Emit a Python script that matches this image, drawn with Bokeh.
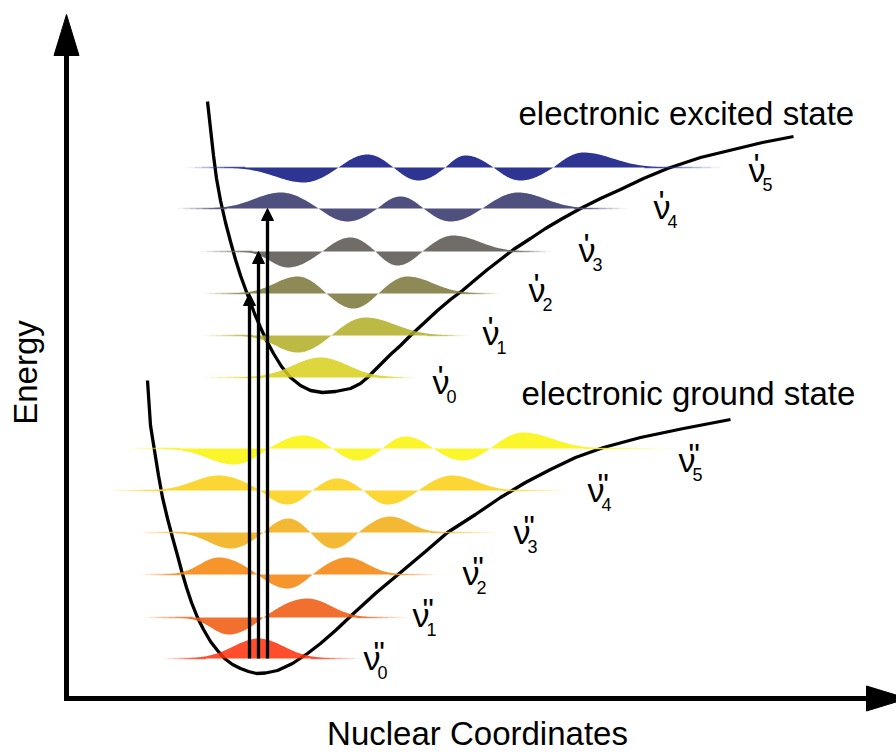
import numpy as np
from bokeh.plotting import figure
from bokeh.models import ColumnDataSource, Arrow, NormalHead, Range1d
from bokeh.core.properties import value
from bokeh.embed import file_html
from bokeh.resources import INLINE

# ---------------- data (arbitrary units: nuclear coordinate, energy) ----------------
ground_curve_x = [81, 84, 88, 92, 96, 101, 106, 111, 115, 120, 125, 131, 137, 144, 151, 158, 166, 174,
                  182, 190, 199, 211, 226, 241, 254, 269, 287, 310, 334, 359, 381, 409, 434, 459, 484,
                  509, 537, 574, 617, 664]
ground_curve_y = [318, 273, 248, 223, 201, 180, 161, 143, 128, 111, 96, 81, 69, 57, 48, 40, 34, 30,
                  27, 25, 25.5, 28, 35, 45, 55, 68, 85, 106, 126, 147, 166, 184, 201, 216, 229,
                  241, 251, 261, 270, 279]
excited_curve_x = [141, 144, 147, 150, 154, 159, 164, 169, 174, 182, 188, 194, 200, 207, 215, 224, 234,
                   244, 256, 269, 284, 294, 301, 312, 324, 334, 344, 357, 371, 384, 396, 409, 421, 434,
                   447, 464, 479, 496, 514, 534, 554, 577, 601, 634, 667, 696, 727]
excited_curve_y = [597, 570, 543, 520, 498, 476, 457, 439, 423, 401, 385, 371, 358, 345, 332, 321, 313,
                   308, 306, 307, 310, 315, 321, 332, 344, 353, 363, 375, 388, 399, 408, 419, 429, 439,
                   449, 460, 470, 480, 490, 500, 509, 520, 530, 541, 549, 556, 562]

# vibrational levels: ground state (v'') and excited state (v')
ground_levels = [40, 81, 124, 166, 208, 250]
excited_levels = [321, 363, 405, 447, 490, 531]
ground_colors = ["#FF4E2E", "#F1702F", "#F7952D", "#F4B934", "#FCD634", "#FBF52C"]
excited_colors = ["#DDD63C", "#BDB946", "#8D8A55", "#706E68", "#50507F", "#2E3591"]

# wavefunction readings per level
ground_line_start = [96, 77, 74, 72, 41, 61]
ground_line_end = [294, 341, 372, 431, 501, 604]
ground_fill_start = [117, 111, 97, 101, 77, 91]
ground_fill_end = [267, 311, 341, 381, 457, 544]
ground_nodes = [[], [197], [191, 246], [197, 244, 292], [194, 246, 297, 352],
                [202, 266, 316, 367, 424]]
ground_peak_x = [[192], [162, 241], [152, 221, 281], [164, 222, 267, 324],
                 [152, 221, 271, 321, 386], [167, 237, 291, 339, 396, 457]]
ground_peak_amp = [[20], [-17, 19], [17, -14, 17], [-16, 14, -16, 16],
                   [15, -14, 12, -14, 15], [-16, 13, -12, 12, -12, 16]]

excited_line_start = [137, 137, 137, 134, 111, 121]
excited_line_end = [350, 401, 434, 484, 559, 654]
excited_fill_start = [172, 167, 164, 171, 137, 154]
excited_fill_end = [336, 387, 417, 464, 531, 604]
excited_nodes = [[], [265], [260, 312], [256, 309, 356], [252, 311, 357, 416],
                 [272, 327, 379, 427, 487]]
excited_peak_x = [[254], [231, 299], [231, 287, 341], [221, 284, 331, 387],
                  [214, 281, 334, 384, 452], [237, 301, 352, 399, 454, 517]]
excited_peak_amp = [[20], [-17, 18], [17, -15, 17], [-16, 14, -14, 16],
                    [16, -13, 12, -13, 16], [-15, 13, -13, 12, -13, 15]]

# level labels (position of the nu glyph baseline)
ground_label_x = [297, 346, 396, 447, 521, 612]
ground_label_y = [30, 73, 115, 156, 198, 228]
excited_label_x = [366, 416, 462, 512, 587, 682]
excited_label_y = [306, 355, 398, 438, 481, 518]
level_numbers = ["0", "1", "2", "3", "4", "5"]

# transitions: from ground v''=0 to excited v'=2,3,4
transition_x = [183, 192, 201]
transition_to = [2, 3, 4]

state_titles = ["electronic excited state", "electronic ground state"]
state_title_x = [452, 455]
state_title_y = [574, 294]

x_label = "Nuclear Coordinates"
y_label = "Energy"

# axis extents (arrow tips)
X_AXIS_END = 841
Y_AXIS_END = 684

FONT = value("Liberation Sans")
SHIFT = 0.32  # svg text baseline correction, in em


def lift(fs):
    return SHIFT * fs


p = figure(width=896, height=754, x_range=Range1d(-66, 830), y_range=Range1d(-56, 698),
           output_backend="svg", toolbar_location=None, min_border=0,
           x_axis_location=None, y_axis_location=None)
p.grid.visible = False
p.outline_line_color = None
p.background_fill_color = "white"

# ---------------- axes with arrow heads ----------------
HEAD_LEN, HEAD_HALF = 41, 12.5
p.line([0, 0, X_AXIS_END - HEAD_LEN + 2], [Y_AXIS_END - HEAD_LEN + 2, 0, 0],
       line_width=5, line_color="black", line_join="miter")
p.patches(xs=[[-HEAD_HALF, 0, HEAD_HALF], [X_AXIS_END - HEAD_LEN, X_AXIS_END, X_AXIS_END - HEAD_LEN]],
          ys=[[Y_AXIS_END - HEAD_LEN, Y_AXIS_END, Y_AXIS_END - HEAD_LEN], [HEAD_HALF, 0, -HEAD_HALF]],
          fill_color="black", line_color="black", line_width=1)

# ---------------- potential curves ----------------
p.line(ground_curve_x, ground_curve_y, line_width=3.3, line_color="black")
p.line(excited_curve_x, excited_curve_y, line_width=3.3, line_color="black")

# ---------------- wavefunctions ----------------
ALPHA = 0.85


def fill_color_for(hexcol):
    h = hexcol.lstrip("#")
    rgb = [int(h[i:i + 2], 16) for i in (0, 2, 4)]
    adj = [int(round(min(255, max(0, (c - (1 - ALPHA) * 255) / ALPHA)))) for c in rgb]
    return "#%02X%02X%02X" % tuple(adj)


def draw_level(base, color, ls, le, fs, fe, nodes, px, amps):
    bounds = [fs] + list(nodes) + [fe]
    n = len(px)
    fc = fill_color_for(color)
    for i in range(n):
        a, b, pk, A = bounds[i], bounds[i + 1], px[i], amps[i]
        xl = np.linspace(a, pk, 40)
        xr = np.linspace(pk, b, 40)[1:]
        if i == 0:
            yl = A * np.exp(-4.5 * ((pk - xl) / (pk - a)) ** 2)
        else:
            yl = A * np.sin(np.pi / 2 * (xl - a) / (pk - a))
        if i == n - 1:
            yr = A * np.exp(-4.5 * ((xr - pk) / (b - pk)) ** 2)
        else:
            yr = A * np.sin(np.pi / 2 * (b - xr) / (b - pk))
        xs = np.concatenate([xl, xr])
        ys = np.concatenate([yl, yr])
        p.varea(x=xs, y1=np.full_like(xs, base, dtype=float), y2=base + ys,
                fill_color=fc, fill_alpha=ALPHA)
    # thin baseline tails, fading outwards
    steps = 8
    l_end = fs + 0.3 * (px[0] - fs)
    r_start = fe - 0.3 * (fe - px[-1])
    lx = np.linspace(ls, l_end, steps + 1)
    rx = np.linspace(r_start, le, steps + 1)
    x0 = list(lx[:-1]) + list(rx[:-1])
    x1 = list(lx[1:]) + list(rx[1:])
    al = [min(1.0, 1.3 * (j + 0.5) / steps) * 0.85 for j in range(steps)]
    ar = [min(1.0, 1.3 * (steps - j - 0.5) / steps) * 0.85 for j in range(steps)]
    src = ColumnDataSource(dict(x0=x0, x1=x1, y=[base] * len(x0), a=al + ar))
    p.segment(x0="x0", y0="y", x1="x1", y1="y", line_alpha="a", line_color=color,
              line_width=1.4, source=src)


for k in range(6):
    draw_level(ground_levels[k], ground_colors[k], ground_line_start[k], ground_line_end[k],
               ground_fill_start[k], ground_fill_end[k], ground_nodes[k], ground_peak_x[k],
               ground_peak_amp[k])
    draw_level(excited_levels[k], excited_colors[k], excited_line_start[k], excited_line_end[k],
               excited_fill_start[k], excited_fill_end[k], excited_nodes[k], excited_peak_x[k],
               excited_peak_amp[k])

# ---------------- level labels ----------------
NU_FS, SUB_FS, PR_FS = 34, 18, 32
nu_x = ground_label_x + excited_label_x
nu_y = ground_label_y + excited_label_y
p.text(x=nu_x, y=[y + lift(NU_FS) for y in nu_y], text=["\u03bd"] * 12, text_font=FONT,
       text_font_size=f"{NU_FS}px", text_align="left", text_baseline="alphabetic",
       text_color="black")
p.text(x=[x + 14 for x in nu_x], y=[y - 10 + lift(SUB_FS) for y in nu_y], text=level_numbers * 2,
       text_font=FONT, text_font_size=f"{SUB_FS}px", text_align="left", text_baseline="alphabetic",
       text_color="black")
p.text(x=[x + 10 for x in ground_label_x] + [x + 5 for x in excited_label_x],
       y=[y + 5 + lift(PR_FS) for y in nu_y], text=['"'] * 6 + ["'"] * 6,
       text_font=FONT, text_font_size=f"{PR_FS}px", text_align="left", text_baseline="alphabetic",
       text_color="black")

# ---------------- state titles & axis labels ----------------
T_FS = 33
p.text(x=state_title_x, y=[y + lift(T_FS) for y in state_title_y], text=state_titles, text_font=FONT,
       text_font_size=f"{T_FS}px", text_align="left", text_baseline="alphabetic", text_color="black")
p.text(x=[411], y=[-46 + lift(T_FS)], text=[x_label], text_font=FONT, text_font_size=f"{T_FS}px",
       text_align="center", text_baseline="alphabetic", text_color="black")
p.text(x=[-30 - lift(T_FS)], y=[326], text=[y_label], angle=np.pi / 2, text_font=FONT,
       text_font_size=f"{T_FS}px", text_align="center", text_baseline="alphabetic",
       text_color="black")

# ---------------- transitions ----------------
arr_src = ColumnDataSource(dict(x=transition_x, y0=[ground_levels[0]] * 3,
                                y1=[excited_levels[t] for t in transition_to]))
p.add_layout(Arrow(end=NormalHead(size=12, fill_color="black", line_color="black"),
                   x_start="x", y_start="y0", x_end="x", y_end="y1", source=arr_src,
                   line_width=3.3, line_color="black"))

open("out.html", "w").write(file_html(p, INLINE))
